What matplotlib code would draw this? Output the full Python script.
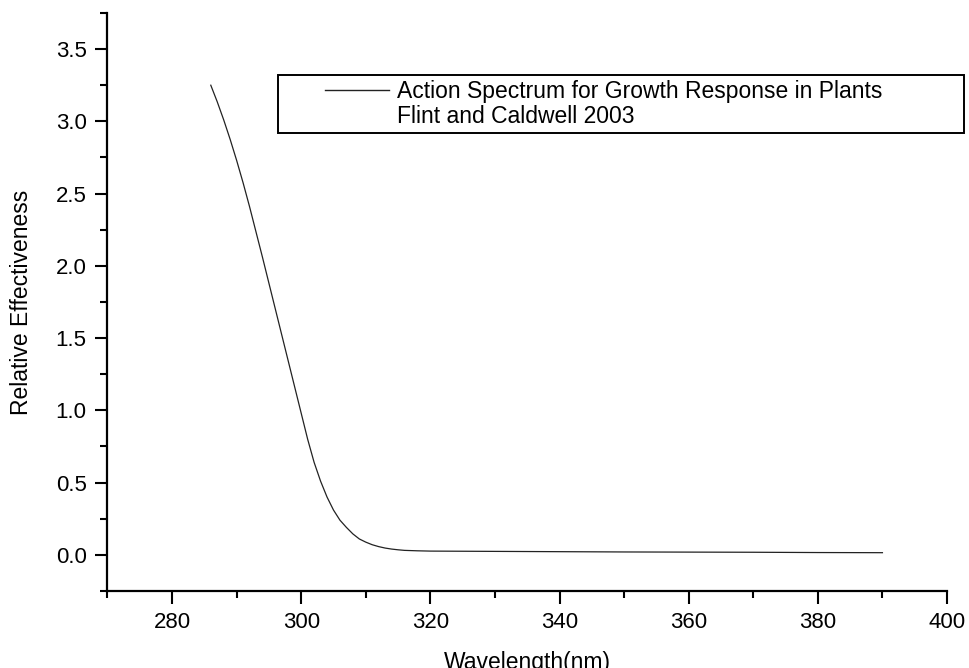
import matplotlib
matplotlib.use("Agg")
import matplotlib.pyplot as plt
from matplotlib.lines import Line2D
from matplotlib.legend_handler import HandlerLine2D
from matplotlib.ticker import MultipleLocator

plt.rcParams["font.family"] = ["Liberation Sans", "DejaVu Sans"]

# action spectrum
wavelength = [286, 287, 288, 289, 290, 291, 292, 293, 294, 295, 296, 297, 298, 299,
              300, 301, 302, 303, 304, 305, 306, 307, 308, 309, 310, 311, 312, 313,
              314, 315, 316, 318, 320, 330, 340, 350, 360, 370, 380, 390]
effectiveness = [3.25, 3.135, 3.01, 2.875, 2.73, 2.575, 2.41, 2.235, 2.06, 1.88, 1.70,
                 1.52, 1.34, 1.16, 0.98, 0.80, 0.64, 0.51, 0.40, 0.31, 0.24, 0.19,
                 0.145, 0.11, 0.088, 0.07, 0.057, 0.047, 0.04, 0.035, 0.031, 0.028,
                 0.026, 0.024, 0.022, 0.020, 0.019, 0.018, 0.016, 0.015]
legend_lines = ["Action Spectrum for Growth Response in Plants", "Flint and Caldwell 2003"]

fig = plt.figure(figsize=(9.69, 6.68), dpi=100)
ax = fig.add_axes([0.1109, 0.1153, 0.8664, 0.8653])

line, = ax.plot(wavelength, effectiveness, color="#222222", lw=0.9)

ax.set_xlim(270, 400)
ax.set_ylim(-0.25, 3.75)
ax.xaxis.set_major_locator(MultipleLocator(20))
ax.xaxis.set_minor_locator(MultipleLocator(10))
ax.yaxis.set_major_locator(MultipleLocator(0.5))
ax.yaxis.set_minor_locator(MultipleLocator(0.25))
ax.set_xticks([280, 300, 320, 340, 360, 380, 400])
ax.set_yticks([0.0, 0.5, 1.0, 1.5, 2.0, 2.5, 3.0, 3.5])

for s in ["top", "right"]:
    ax.spines[s].set_visible(False)
for s in ["left", "bottom"]:
    ax.spines[s].set_linewidth(1.6)

ax.tick_params(which="major", direction="out", length=9, width=1.5, labelsize=16, pad=6)
ax.tick_params(which="minor", direction="out", length=5, width=1.5)

ax.set_xlabel("Wavelength(nm)", fontsize=16.5, labelpad=13)
ax.set_ylabel("Relative Effectiveness", fontsize=16.5, labelpad=16)

blank = Line2D([], [], color="none")
fs = 16.5
leg = ax.legend([line, blank], legend_lines, loc="upper left",
                bbox_to_anchor=(0.2035, 0.7924, 0.8167, 0.1003), mode="expand",
                borderaxespad=0, fontsize=fs, frameon=True, fancybox=False,
                edgecolor="black", framealpha=1, handlelength=4.6,
                handletextpad=0.38, labelspacing=0.08, borderpad=0.22,
                handler_map={line: HandlerLine2D(xpad=1.8)})
leg.get_frame().set_linewidth(1.4)
leg.legend_handles[0].set_linewidth(1.0)

fig.savefig("out.png", dpi=100)
